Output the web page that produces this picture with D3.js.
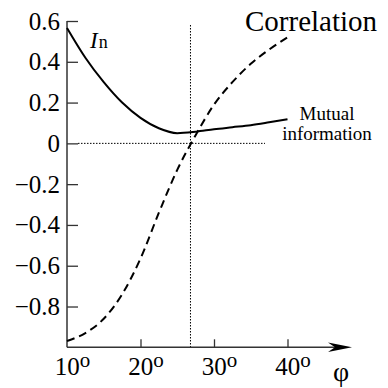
<!DOCTYPE html>
<html>
<head>
<meta charset="utf-8">
<script src="https://cdn.jsdelivr.net/npm/d3@7"></script>
<style>
  body { margin: 0; background: #fff; }
  svg text { font-family: "Liberation Serif", "Times New Roman", Tinos, Times, "DejaVu Serif", serif !important; }
</style>
</head>
<body>
<svg width="388" height="388"></svg>
<script>
// angle phi in degrees
phi = [10, 12.5, 15, 17.5, 20, 22.5, 25, 27.5, 30, 32.5, 35, 37.5, 40]
mutualInfo = [0.566, 0.42, 0.30, 0.20, 0.125, 0.074, 0.05, 0.057, 0.069, 0.079, 0.089, 0.103, 0.118]
correlation = [-0.969, -0.93, -0.86, -0.74, -0.565, -0.34, -0.13, 0.04, 0.19, 0.30, 0.39, 0.46, 0.52]
yTicks = [0.6, 0.4, 0.2, 0, -0.2, -0.4, -0.6, -0.8]
xTicks = [10, 20, 30, 40]
crossPhi = 26.8

const svg = d3.select("svg")

const x = d3.scaleLinear().domain([10, 40]).range([67, 287.5])
const y = d3.scaleLinear().domain([-1, 0.6]).range([347.3, 21])

const axisEnd = 352 //tip of the arrow

//reference lines (dotted)
svg.append("line")
  .attr("x1", x(10) + 11).attr("x2", 265)
  .attr("y1", y(0)).attr("y2", y(0))
  .attr("stroke", "#000").attr("stroke-width", 1).attr("stroke-dasharray", "1.5,1.5")
svg.append("line")
  .attr("x1", x(crossPhi)).attr("x2", x(crossPhi))
  .attr("y1", 25).attr("y2", y(-1))
  .attr("stroke", "#000").attr("stroke-width", 1).attr("stroke-dasharray", "1.5,1.5")

//y axis, ticks inside, labels outside
const yAxis = svg.append("g")
  .attr("transform", `translate(${x(10)},0)`)
  .call(d3.axisLeft(y)
    .tickValues(yTicks)
    .tickSize(-11)
    .tickPadding(7)
    .tickFormat(d => d === 0 ? "0" : d3.format(".1f")(d)))
yAxis.select(".domain").remove()
yAxis.append("line").attr("y1", y(0.6)).attr("y2", y(-1)).attr("stroke", "#333").attr("stroke-width", 1.5)
yAxis.selectAll(".tick line").attr("stroke", "#333").attr("stroke-width", 1.3)
yAxis.selectAll("text").attr("fill", "#000").attr("font-size", 25)

//x axis with arrow
const xAxis = svg.append("g")
  .attr("transform", `translate(0,${y(-1)})`)
  .call(d3.axisBottom(x)
    .tickValues(xTicks)
    .tickSize(-8)
    .tickPadding(10))
xAxis.select(".domain").remove()
xAxis.append("line").attr("x1", x(10)).attr("x2", axisEnd - 8).attr("stroke", "#333").attr("stroke-width", 1.5)
xAxis.append("path")
  .attr("d", `M${axisEnd},0 L${axisEnd - 24},-4.8 L${axisEnd - 17},0 L${axisEnd - 24},4.8 Z`)
  .attr("fill", "#000")
xAxis.selectAll(".tick line").attr("stroke", "#333").attr("stroke-width", 1.3)
  .attr("opacity", d => d === 10 ? 0 : 1)
xAxis.selectAll(".tick text")
  .attr("fill", "#000").attr("font-size", 25)
  .attr("dy", null).attr("y", 28).attr("x", 5)
  .text(null)
  .each(function(d) {
    const t = d3.select(this)
    t.append("tspan").text(d)
    t.append("tspan").attr("font-size", 21).attr("dy", -8).text("o")
  })

const line = d3.line()
  .x((d, i) => x(phi[i]))
  .y(d => y(d))
  .curve(d3.curveMonotoneX)

svg.append("path")
  .attr("d", line(mutualInfo))
  .attr("fill", "none").attr("stroke", "#000").attr("stroke-width", 2)

svg.append("path")
  .attr("d", line(correlation))
  .attr("fill", "none").attr("stroke", "#000").attr("stroke-width", 2)
  .attr("stroke-dasharray", "8,5")

//labels
const In = svg.append("text").attr("x", 90).attr("y", 48).attr("fill", "#000")
In.append("tspan").attr("font-style", "italic").attr("font-size", 23).text("I")
In.append("tspan").attr("font-size", 18).attr("dx", 1).text("n")

svg.append("text").attr("x", 245).attr("y", 31).attr("font-size", 29).attr("fill", "#000").text("Correlation")

svg.append("text").attr("x", 327).attr("y", 120).attr("font-size", 19).attr("text-anchor", "middle").text("Mutual")
svg.append("text").attr("x", 327).attr("y", 140).attr("font-size", 19).attr("text-anchor", "middle").text("information")

svg.append("text").attr("x", 341).attr("y", 381).attr("font-size", 28).attr("text-anchor", "middle").text("φ")
</script>
</body>
</html>
